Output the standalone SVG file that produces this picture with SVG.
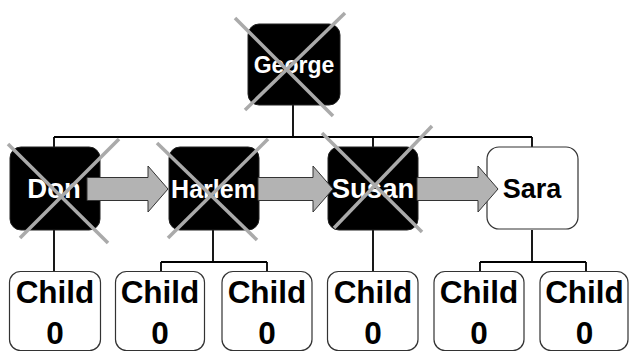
<svg xmlns="http://www.w3.org/2000/svg" width="629" height="352" viewBox="0 0 629 352">
<style>
.dark{fill:#000;stroke:#222;stroke-width:1}
.light{fill:#fff;stroke:#333;stroke-width:1.2}
.conn{stroke:#000;stroke-width:1.8;fill:none}
.cross{stroke:#aaa;stroke-width:3.5;stroke-linecap:butt}
.arrow{fill:#b3b3b3;stroke:#333;stroke-width:1}
.wt{font-family:"Liberation Sans",Arial,sans-serif;font-weight:bold;fill:#fff;text-anchor:middle}
.bt{font-family:"Liberation Sans",Arial,sans-serif;font-weight:bold;fill:#000;text-anchor:middle}
.ct{font-family:"Liberation Sans",Arial,sans-serif;font-weight:bold;fill:#000;text-anchor:middle;font-size:31.5px}
</style>
<rect width="629" height="352" fill="#fff"/>
<g id="connectors">
<path class="conn" d="M293 105V137M54 137H532M54 137V147M373 137V147M532 137V147"/>
<path class="conn" d="M54 230V272M213 230V262M161 262H267M161 262V272M267 262V272M373 230V272M532 230V262M480 262H586M480 262V272M586 262V272"/>
</g>
<g id="node-george">
<rect class="dark" x="248" y="24" width="92" height="81" rx="11"/>
<text class="wt" x="294" y="73" font-size="23">George</text>
</g>
<g id="node-don">
<rect class="dark" x="10" y="147" width="90" height="83" rx="11"/>
<text class="wt" x="54" y="198" font-size="27.5">Don</text>
</g>
<g id="node-harlem">
<rect class="dark" x="169" y="147" width="90" height="83" rx="11"/>
<text class="wt" x="213.5" y="198" font-size="25">Harlem</text>
</g>
<g id="node-susan">
<rect class="dark" x="328" y="147" width="90" height="83" rx="11"/>
<text class="wt" x="373" y="198" font-size="27.5">Susan</text>
</g>
<g id="node-sara">
<rect class="light" x="487" y="147" width="91" height="82" rx="12"/>
<text class="bt" x="532" y="198" font-size="27">Sara</text>
</g>
<g id="arrows">
<path class="arrow" d="M87 177.5H148V166L168 189L148 212V200.5H87Z"/>
<path class="arrow" d="M258 177.5H313V166L333 189L313 212V200.5H258Z"/>
<path class="arrow" d="M417 177.5H478V166L498 189L478 212V200.5H417Z"/>
</g>
<g id="crosses">
<line class="cross" x1="235" y1="18" x2="333" y2="116"/>
<line class="cross" x1="345" y1="13" x2="245" y2="110"/>
<line class="cross" x1="8" y1="144" x2="108" y2="243"/>
<line class="cross" x1="119" y1="139" x2="20" y2="238"/>
<line class="cross" x1="157" y1="143" x2="257" y2="240"/>
<line class="cross" x1="268" y1="139" x2="168" y2="238"/>
<line class="cross" x1="322" y1="133" x2="422" y2="232"/>
<line class="cross" x1="432" y1="126" x2="334" y2="228"/>
</g>
<g id="child-1">
<rect class="light" x="9.5" y="271.5" width="91" height="79" rx="11"/>
<text class="ct" x="55" y="303">Child</text><text class="ct" x="55" y="344">0</text>
</g>
<g id="child-2">
<rect class="light" x="115.5" y="271.5" width="89" height="79" rx="11"/>
<text class="ct" x="160" y="303">Child</text><text class="ct" x="160" y="344">0</text>
</g>
<g id="child-3">
<rect class="light" x="222" y="271.5" width="90" height="79" rx="11"/>
<text class="ct" x="267" y="303">Child</text><text class="ct" x="267" y="344">0</text>
</g>
<g id="child-4">
<rect class="light" x="327.5" y="271.5" width="90.5" height="79" rx="11"/>
<text class="ct" x="373" y="303">Child</text><text class="ct" x="373" y="344">0</text>
</g>
<g id="child-5">
<rect class="light" x="434" y="271.5" width="90" height="79" rx="11"/>
<text class="ct" x="479" y="303">Child</text><text class="ct" x="479" y="344">0</text>
</g>
<g id="child-6">
<rect class="light" x="540" y="271.5" width="88" height="79" rx="11"/>
<text class="ct" x="584.5" y="303">Child</text><text class="ct" x="584.5" y="344">0</text>
</g>
</svg>
